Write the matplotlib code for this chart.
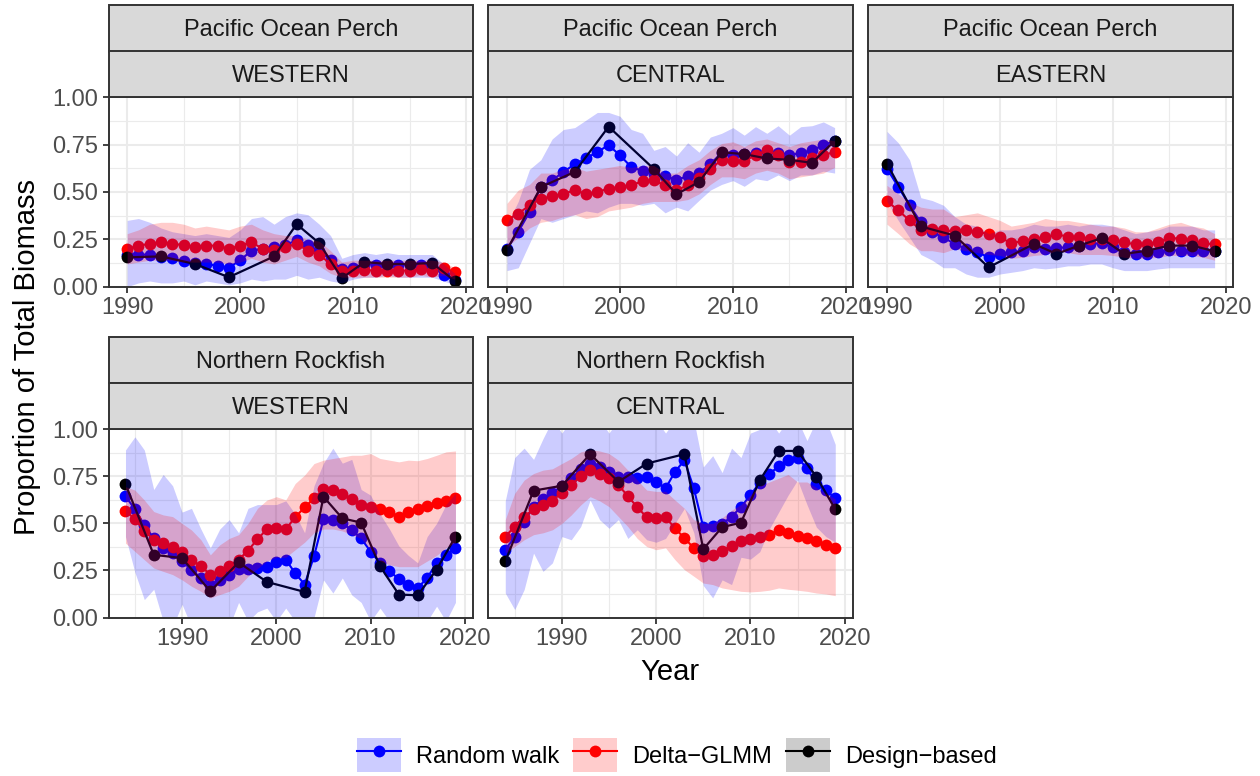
import numpy as np
import matplotlib.pyplot as plt
from matplotlib.patches import Patch, Rectangle
from matplotlib.lines import Line2D
from matplotlib.ticker import MultipleLocator

plt.rcParams['font.family'] = ['Liberation Sans', 'DejaVu Sans']

# ─── DATA ─────────────────────────────────────────────────────────────────────
years_top = list(range(1990, 2020))
years_bot = list(range(1984, 2020))
survey_top = [1990, 1993, 1996, 1999, 2003, 2005, 2007, 2009, 2011, 2013, 2015, 2017, 2019]
survey_bot = [1984, 1987] + survey_top

species = ["Pacific Ocean Perch", "Pacific Ocean Perch", "Pacific Ocean Perch",
           "Northern Rockfish", "Northern Rockfish"]
regions = ["WESTERN", "CENTRAL", "EASTERN", "WESTERN", "CENTRAL"]

# Pacific Ocean Perch - WESTERN
pop_w_rw = [0.17, 0.17, 0.17, 0.155, 0.15, 0.135, 0.125, 0.12, 0.11, 0.10,
            0.14, 0.19, 0.20, 0.21, 0.22, 0.245, 0.22, 0.19, 0.14, 0.094,
            0.10, 0.117, 0.117, 0.117, 0.117, 0.117, 0.117, 0.11, 0.06, 0.035]
pop_w_rw_lo = [0.0, 0.02, 0.03, 0.02, 0.02, 0.03, 0.01, 0.03, 0.02, 0.01,
               0.02, 0.04, 0.03, 0.04, 0.04, 0.06, 0.04, 0.05, 0.03, 0.02,
               0.04, 0.05, 0.05, 0.06, 0.05, 0.05, 0.05, 0.05, 0.03, 0.01]
pop_w_rw_hi = [0.35, 0.36, 0.34, 0.31, 0.29, 0.28, 0.27, 0.28, 0.27, 0.26,
               0.30, 0.36, 0.37, 0.33, 0.37, 0.39, 0.38, 0.33, 0.27, 0.15,
               0.17, 0.18, 0.17, 0.18, 0.17, 0.17, 0.17, 0.17, 0.12, 0.07]
pop_w_dg = [0.20, 0.217, 0.226, 0.235, 0.226, 0.22, 0.21, 0.217, 0.217, 0.20,
            0.217, 0.235, 0.20, 0.195, 0.21, 0.226, 0.19, 0.17, 0.12, 0.085,
            0.085, 0.088, 0.085, 0.085, 0.085, 0.085, 0.093, 0.085, 0.10, 0.076]
pop_w_dg_lo = [0.12, 0.13, 0.14, 0.14, 0.14, 0.13, 0.13, 0.13, 0.13, 0.12,
               0.13, 0.15, 0.13, 0.12, 0.14, 0.16, 0.13, 0.11, 0.07, 0.05,
               0.05, 0.05, 0.05, 0.05, 0.05, 0.05, 0.06, 0.05, 0.06, 0.04]
pop_w_dg_hi = [0.28, 0.30, 0.33, 0.34, 0.34, 0.33, 0.31, 0.32, 0.31, 0.30,
               0.32, 0.33, 0.30, 0.28, 0.27, 0.27, 0.25, 0.24, 0.19, 0.13,
               0.14, 0.14, 0.14, 0.14, 0.14, 0.14, 0.14, 0.14, 0.13, 0.10]
pop_w_db = [0.155, 0.16, 0.12, 0.05, 0.16, 0.33, 0.23, 0.045, 0.13, 0.12, 0.12, 0.125, 0.03]

# Pacific Ocean Perch - CENTRAL
pop_c_rw = [0.20, 0.29, 0.394, 0.527, 0.562, 0.606, 0.647, 0.677, 0.712, 0.747,
            0.694, 0.632, 0.611, 0.597, 0.583, 0.565, 0.583, 0.60, 0.647, 0.707,
            0.694, 0.70, 0.707, 0.717, 0.707, 0.694, 0.707, 0.72, 0.747, 0.77]
pop_c_rw_lo = [0.085, 0.10, 0.23, 0.36, 0.34, 0.36, 0.38, 0.40, 0.39, 0.42,
               0.44, 0.44, 0.43, 0.44, 0.39, 0.42, 0.40, 0.456, 0.51, 0.54,
               0.56, 0.53, 0.57, 0.56, 0.59, 0.56, 0.59, 0.59, 0.61, 0.60]
pop_c_rw_hi = [0.33, 0.45, 0.62, 0.67, 0.78, 0.83, 0.84, 0.88, 0.92, 0.92,
               0.90, 0.83, 0.81, 0.72, 0.74, 0.69, 0.76, 0.71, 0.79, 0.81,
               0.84, 0.80, 0.845, 0.81, 0.85, 0.80, 0.845, 0.85, 0.87, 0.84]
pop_c_dg = [0.353, 0.385, 0.43, 0.465, 0.477, 0.49, 0.51, 0.49, 0.50, 0.518,
            0.526, 0.535, 0.558, 0.562, 0.535, 0.51, 0.535, 0.576, 0.624, 0.668,
            0.664, 0.664, 0.694, 0.72, 0.694, 0.66, 0.66, 0.677, 0.694, 0.712]
pop_c_dg_lo = [0.21, 0.26, 0.31, 0.34, 0.35, 0.37, 0.38, 0.36, 0.37, 0.40,
               0.41, 0.42, 0.44, 0.45, 0.45, 0.45, 0.46, 0.49, 0.54, 0.58,
               0.58, 0.57, 0.60, 0.615, 0.60, 0.57, 0.58, 0.59, 0.60, 0.63]
pop_c_dg_hi = [0.44, 0.51, 0.54, 0.60, 0.60, 0.62, 0.63, 0.61, 0.62, 0.63,
               0.64, 0.63, 0.64, 0.64, 0.60, 0.60, 0.64, 0.67, 0.72, 0.756,
               0.765, 0.74, 0.77, 0.78, 0.76, 0.74, 0.76, 0.77, 0.78, 0.77]
pop_c_db = [0.194, 0.526, 0.606, 0.845, 0.622, 0.488, 0.553, 0.71, 0.70, 0.677, 0.67, 0.654, 0.77]

# Pacific Ocean Perch - EASTERN
pop_e_rw = [0.624, 0.527, 0.43, 0.34, 0.288, 0.26, 0.226, 0.20, 0.182, 0.155,
            0.173, 0.182, 0.19, 0.212, 0.20, 0.205, 0.208, 0.217, 0.226, 0.23,
            0.208, 0.182, 0.173, 0.173, 0.182, 0.194, 0.19, 0.19, 0.187, 0.19]
pop_e_rw_lo = [0.45, 0.35, 0.26, 0.17, 0.14, 0.10, 0.10, 0.067, 0.05, 0.05,
               0.067, 0.076, 0.085, 0.10, 0.094, 0.10, 0.11, 0.11, 0.12, 0.12,
               0.10, 0.085, 0.085, 0.085, 0.094, 0.10, 0.10, 0.10, 0.10, 0.10]
pop_e_rw_hi = [0.82, 0.76, 0.67, 0.47, 0.455, 0.43, 0.37, 0.33, 0.32, 0.28,
               0.30, 0.30, 0.31, 0.33, 0.32, 0.32, 0.33, 0.32, 0.33, 0.33,
               0.32, 0.30, 0.28, 0.29, 0.30, 0.32, 0.32, 0.32, 0.30, 0.30]
pop_e_dg = [0.452, 0.403, 0.35, 0.30, 0.306, 0.297, 0.293, 0.297, 0.288, 0.28,
            0.26, 0.23, 0.24, 0.253, 0.26, 0.276, 0.265, 0.26, 0.253, 0.253,
            0.244, 0.235, 0.223, 0.223, 0.235, 0.258, 0.253, 0.244, 0.23, 0.223]
pop_e_dg_lo = [0.33, 0.28, 0.226, 0.19, 0.19, 0.18, 0.20, 0.19, 0.18, 0.17,
               0.165, 0.15, 0.155, 0.165, 0.17, 0.19, 0.18, 0.17, 0.17, 0.17,
               0.165, 0.155, 0.15, 0.15, 0.155, 0.165, 0.165, 0.165, 0.155, 0.14]
pop_e_dg_hi = [0.535, 0.49, 0.447, 0.42, 0.41, 0.41, 0.37, 0.38, 0.39, 0.37,
               0.35, 0.32, 0.33, 0.34, 0.36, 0.35, 0.35, 0.34, 0.33, 0.32,
               0.32, 0.31, 0.29, 0.29, 0.31, 0.33, 0.34, 0.32, 0.31, 0.28]
pop_e_db = [0.65, 0.318, 0.27, 0.102, 0.226, 0.173, 0.217, 0.256, 0.173, 0.19, 0.217, 0.217, 0.187]

# Northern Rockfish - WESTERN
nr_w_rw = [0.645, 0.575, 0.492, 0.42, 0.37, 0.342, 0.298, 0.254, 0.21, 0.175,
           0.20, 0.227, 0.257, 0.257, 0.263, 0.27, 0.293, 0.307, 0.236, 0.175,
           0.325, 0.522, 0.518, 0.50, 0.465, 0.42, 0.35, 0.29, 0.245, 0.205,
           0.175, 0.157, 0.21, 0.29, 0.333, 0.37]
nr_w_rw_lo = [0.43, 0.24, 0.095, 0.15, -0.02, -0.05, 0.07, -0.05, -0.05, -0.05,
              -0.05, -0.05, 0.08, -0.02, 0.03, 0.05, -0.02, 0.05, -0.02, -0.05,
              0.0, 0.20, 0.13, 0.21, 0.12, 0.08, -0.02, 0.05, -0.02, -0.05,
              -0.05, -0.05, -0.02, 0.06, -0.02, 0.08]
nr_w_rw_hi = [0.89, 0.96, 0.89, 0.68, 0.76, 0.70, 0.56, 0.58, 0.47, 0.37,
              0.47, 0.52, 0.45, 0.58, 0.60, 0.60, 0.60, 0.62, 0.55, 0.45,
              0.70, 0.82, 0.90, 0.82, 0.84, 0.68, 0.65, 0.55, 0.47, 0.38,
              0.33, 0.29, 0.43, 0.50, 0.60, 0.66]
nr_w_dg = [0.568, 0.522, 0.462, 0.413, 0.395, 0.377, 0.346, 0.307, 0.272, 0.228,
           0.245, 0.272, 0.307, 0.356, 0.416, 0.469, 0.474, 0.469, 0.533, 0.585,
           0.633, 0.681, 0.677, 0.656, 0.628, 0.598, 0.586, 0.575, 0.563, 0.536,
           0.563, 0.575, 0.593, 0.607, 0.62, 0.633]
nr_w_dg_lo = [0.395, 0.351, 0.307, 0.263, 0.245, 0.228, 0.20, 0.166, 0.139, 0.104,
              0.122, 0.139, 0.166, 0.219, 0.26, 0.30, 0.32, 0.32, 0.36, 0.40,
              0.45, 0.47, 0.47, 0.46, 0.44, 0.42, 0.36, 0.30, 0.28, 0.27,
              0.27, 0.27, 0.30, 0.33, 0.37, 0.40]
nr_w_dg_hi = [0.695, 0.677, 0.624, 0.563, 0.545, 0.536, 0.50, 0.465, 0.413, 0.333,
              0.386, 0.42, 0.44, 0.50, 0.58, 0.624, 0.642, 0.625, 0.712, 0.757,
              0.818, 0.836, 0.845, 0.853, 0.862, 0.862, 0.871, 0.845, 0.836, 0.827,
              0.836, 0.833, 0.845, 0.862, 0.88, 0.885]
nr_w_db = [0.709, 0.333, 0.316, 0.139, 0.293, 0.189, 0.136, 0.642, 0.527, 0.504,
           0.272, 0.122, 0.118, 0.254, 0.43]

# Northern Rockfish - CENTRAL
nr_c_rw = [0.36, 0.427, 0.51, 0.589, 0.628, 0.663, 0.698, 0.739, 0.787, 0.818,
           0.80, 0.774, 0.748, 0.744, 0.739, 0.744, 0.721, 0.686, 0.774, 0.836,
           0.686, 0.48, 0.487, 0.497, 0.536, 0.586, 0.651, 0.716, 0.762, 0.804,
           0.836, 0.85, 0.792, 0.712, 0.677, 0.633]
nr_c_rw_lo = [0.13, 0.042, 0.148, 0.342, 0.245, 0.29, 0.43, 0.413, 0.483, 0.624,
              0.52, 0.474, 0.52, 0.42, 0.466, 0.413, 0.40, 0.42, 0.50, 0.58,
              0.45, 0.17, 0.104, 0.20, 0.175, 0.32, 0.31, 0.35, 0.47, 0.56,
              0.65, 0.73, 0.60, 0.48, 0.43, 0.40]
nr_c_rw_hi = [0.62, 0.85, 0.90, 0.84, 0.95, 1.05, 0.98, 1.05, 1.05, 1.05,
              1.05, 0.98, 1.05, 1.05, 1.02, 1.05, 1.05, 0.98, 1.05, 1.05,
              1.05, 0.80, 0.86, 0.77, 0.90, 0.85, 0.98, 1.0, 1.05, 0.98,
              1.05, 1.05, 0.94, 1.05, 1.05, 0.92]
nr_c_dg = [0.43, 0.483, 0.536, 0.575, 0.598, 0.621, 0.663, 0.704, 0.751, 0.783,
           0.765, 0.739, 0.704, 0.645, 0.586, 0.533, 0.527, 0.533, 0.474, 0.422,
           0.369, 0.328, 0.333, 0.356, 0.381, 0.404, 0.416, 0.427, 0.439, 0.466,
           0.448, 0.434, 0.422, 0.409, 0.386, 0.369]
nr_c_dg_lo = [0.342, 0.377, 0.413, 0.44, 0.45, 0.466, 0.50, 0.545, 0.598, 0.642,
              0.62, 0.589, 0.536, 0.483, 0.42, 0.377, 0.36, 0.37, 0.307, 0.254,
              0.219, 0.183, 0.175, 0.157, 0.148, 0.139, 0.136, 0.139, 0.145, 0.157,
              0.15, 0.145, 0.139, 0.13, 0.125, 0.116]
nr_c_dg_hi = [0.52, 0.66, 0.73, 0.765, 0.783, 0.79, 0.818, 0.845, 0.88, 0.892,
              0.885, 0.871, 0.836, 0.783, 0.73, 0.677, 0.67, 0.67, 0.624, 0.58,
              0.52, 0.50, 0.50, 0.53, 0.57, 0.60, 0.65, 0.70, 0.72, 0.74,
              0.76, 0.72, 0.72, 0.69, 0.66, 0.63]
nr_c_db = [0.298, 0.674, 0.70, 0.868, 0.721, 0.818, 0.868, 0.363, 0.48, 0.504,
           0.73, 0.885, 0.885, 0.748, 0.575]

panels = [
    (years_top, survey_top, pop_w_rw, pop_w_rw_lo, pop_w_rw_hi, pop_w_dg, pop_w_dg_lo, pop_w_dg_hi, pop_w_db),
    (years_top, survey_top, pop_c_rw, pop_c_rw_lo, pop_c_rw_hi, pop_c_dg, pop_c_dg_lo, pop_c_dg_hi, pop_c_db),
    (years_top, survey_top, pop_e_rw, pop_e_rw_lo, pop_e_rw_hi, pop_e_dg, pop_e_dg_lo, pop_e_dg_hi, pop_e_db),
    (years_bot, survey_bot, nr_w_rw, nr_w_rw_lo, nr_w_rw_hi, nr_w_dg, nr_w_dg_lo, nr_w_dg_hi, nr_w_db),
    (years_bot, survey_bot, nr_c_rw, nr_c_rw_lo, nr_c_rw_hi, nr_c_dg, nr_c_dg_lo, nr_c_dg_hi, nr_c_db),
]

# ─── LAYOUT (pixels) ──────────────────────────────────────────────────────────
W, H = 1260, 776
COL_X = [108.5, 488.3, 868.3]
COL_W = 364.4
ROW_Y = [(97.3, 286.7), (429.3, 617.5)]        # panel top / bottom
STRIP_Y = [(5, 51.5, 97.3), (337.3, 383.3, 429.3)]
XLIM = [(1988.35, 2020.6), (1982.2, 2020.85)]
EDGE = "#333333"
GRID = "#EBEBEB"
BLUE, RED = "#0000FF", "#FF0000"
MS = 8.5

fig = plt.figure(figsize=(W / 100, H / 100), dpi=100)


def strip(x0, y0, y1, text):
    fig.add_artist(Rectangle((x0 / W, 1 - y1 / H), COL_W / W, (y1 - y0) / H,
                             transform=fig.transFigure, facecolor="#D9D9D9",
                             edgecolor=EDGE, linewidth=1.4))
    fig.text((x0 + COL_W / 2) / W, 1 - ((y0 + y1) / 2 + 2) / H, text, ha="center",
             va="center", fontsize=17, color="#1A1A1A")


for i, (yrs, svy, rw, rw_lo, rw_hi, dg, dg_lo, dg_hi, db) in enumerate(panels):
    row, col = divmod(i, 3)
    top, bot = ROW_Y[row]
    ax = fig.add_axes([COL_X[col] / W, 1 - bot / H, COL_W / W, (bot - top) / H])

    ax.plot(yrs, rw, color=BLUE, lw=1.5, marker="o", ms=MS, mew=0, zorder=2)
    ax.plot(yrs, dg, color=RED, lw=1.5, marker="o", ms=MS, mew=0, zorder=3)
    ax.plot(svy, db, color="black", lw=1.6, marker="o", ms=MS, mew=0, zorder=4)
    ax.fill_between(yrs, rw_lo, rw_hi, color=BLUE, alpha=0.2, lw=0, zorder=5)
    ax.fill_between(yrs, dg_lo, dg_hi, color=RED, alpha=0.2, lw=0, zorder=5)

    ax.set_xlim(*XLIM[row])
    ax.set_ylim(0, 1)
    ax.xaxis.set_major_locator(MultipleLocator(10))
    ax.xaxis.set_minor_locator(MultipleLocator(5))
    ax.yaxis.set_major_locator(MultipleLocator(0.25))
    ax.yaxis.set_minor_locator(MultipleLocator(0.125))
    ax.set_axisbelow(True)
    ax.grid(which="major", color=GRID, lw=1.5)
    ax.grid(which="minor", color=GRID, lw=0.8)
    for s in ax.spines.values():
        s.set_color(EDGE)
        s.set_linewidth(1.4)
        s.set_zorder(10)
    ax.tick_params(which="major", length=4.5, width=1.3, color=EDGE,
                   labelsize=17, labelcolor="#4D4D4D", pad=3)
    ax.tick_params(which="minor", length=0)
    ax.set_xticks([1990, 2000, 2010, 2020])
    ax.set_xticklabels(["1990", "2000", "2010", "2020"])
    if col == 0:
        ax.set_yticks([0, 0.25, 0.5, 0.75, 1.0])
        ax.set_yticklabels(["0.00", "0.25", "0.50", "0.75", "1.00"])
    else:
        ax.tick_params(axis="y", which="both", left=False, labelleft=False)

    s0, s1, s2 = STRIP_Y[row]
    strip(COL_X[col], s0, s1, species[i])
    strip(COL_X[col], s1, s2, regions[i])

fig.text(27 / W, 1 - 357 / H, "Proportion of Total Biomass", rotation=90,
         ha="center", va="center", fontsize=21)
fig.text(670 / W, 1 - 672 / H, "Year", ha="center", va="center", fontsize=21)

handles = [
    (Patch(facecolor="#CCCCFF", edgecolor="none"),
     Line2D([], [], color=BLUE, lw=1.5, marker="o", ms=MS, mew=0)),
    (Patch(facecolor="#FFCCCC", edgecolor="none"),
     Line2D([], [], color=RED, lw=1.5, marker="o", ms=MS, mew=0)),
    (Patch(facecolor="#CCCCCC", edgecolor="none"),
     Line2D([], [], color="black", lw=1.5, marker="o", ms=MS, mew=0)),
]
fig.legend(handles, ["Random walk", "Delta\u2212GLMM", "Design\u2212based"],
           loc="center", bbox_to_anchor=(677 / W, 1 - 755 / H), ncol=3,
           frameon=False, fontsize=17, handlelength=1.86, handleheight=1.78,
           handletextpad=0.64, columnspacing=0.6, borderpad=0)

plt.savefig("out.png", dpi=100)
